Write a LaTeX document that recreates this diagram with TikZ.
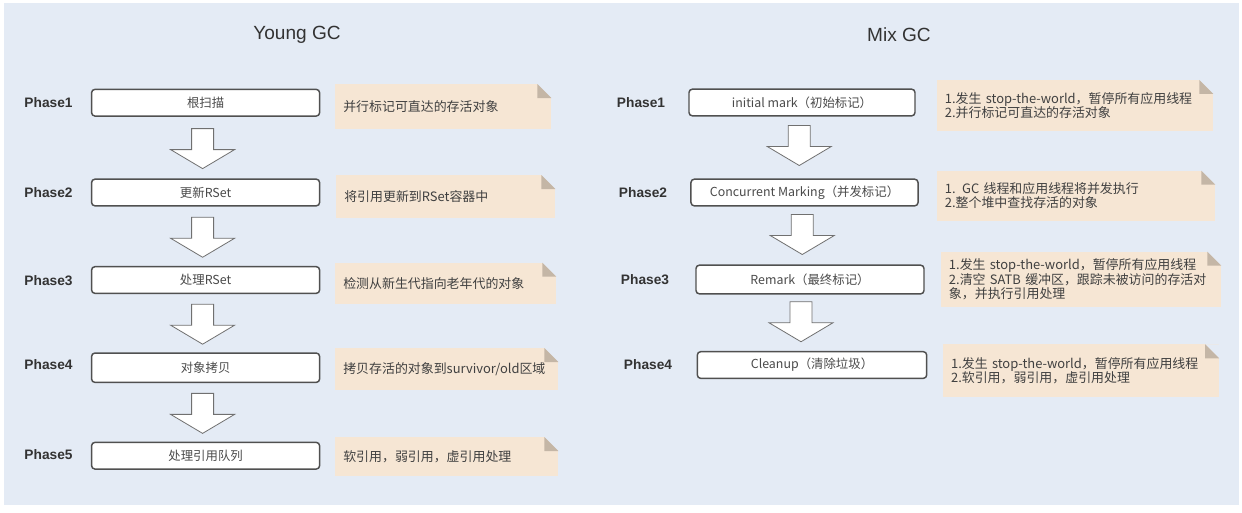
\documentclass[tikz,border=0pt]{standalone}
\usepackage{fontspec}
\setmainfont{Noto Sans CJK SC}
\newfontfamily\latinfont{Liberation Sans}
\usetikzlibrary{calc}
\definecolor{bgblue}{HTML}{E4EBF5}
\definecolor{notefill}{HTML}{F6E6D4}
\definecolor{foldcol}{HTML}{C4B6A6}
\definecolor{boxline}{HTML}{505050}
\definecolor{arrowline}{HTML}{707070}
\definecolor{darktext}{HTML}{333333}
\definecolor{boxtext}{HTML}{4A4A4A}
\definecolor{notetext}{HTML}{404040}
\tikzset{
  titlestyle/.style={font=\latinfont\fontsize{14.3}{16}\selectfont, text=darktext, inner sep=0pt},
  phasestyle/.style={font=\latinfont\bfseries\fontsize{10.3}{12}\selectfont, text=darktext, inner sep=0pt},
  boxstyle/.style={draw=boxline, line width=1.1pt, fill=white, rounded corners=2.5pt,
    minimum height=20pt, inner sep=0pt, font=\fontsize{9.3}{10.5}\selectfont, text=boxtext},
  notestyle/.style={fill=notefill, inner xsep=6pt, inner ysep=0pt, anchor=west, align=left,
    font=\fontsize{9.7}{10.8}\selectfont, text=notetext,
    path picture={
      \fill[bgblue] ([xshift=-10.5pt]path picture bounding box.north east) -- (path picture bounding box.north east) -- ([yshift=-10.5pt]path picture bounding box.north east) -- cycle;
      \fill[foldcol] ([xshift=-10.5pt]path picture bounding box.north east) -- ([yshift=-10.5pt]path picture bounding box.north east) -- ([xshift=-10.5pt,yshift=-10.5pt]path picture bounding box.north east) -- cycle;
    }},
  arrowstyle/.style={draw=arrowline, line width=0.6pt, fill=white, line join=miter},
  downarrow/.pic={\draw[arrowstyle] (-11,-20) -- (11,-20) -- (11,1) -- (32,1) -- (0,20) -- (-32,1) -- (-11,1) -- cycle;}
}
\newcommand{\notebox}[6]{% name, x1, yc, W, H, text
  \node[notestyle, minimum width={#4*0.75pt}, minimum height={#5*0.75pt}, text width={(#4-16)*0.75pt}] (#1) at (#2,#3) {#6};}
\begin{document}
\begin{tikzpicture}[x=0.75pt,y=-0.75pt]
\useasboundingbox (0,0) rectangle (1242,512);
\fill[white] (0,0) rectangle (1242,512);
\fill[bgblue] (4,3) rectangle (1239,505);

% titles
\node[titlestyle] (tyoung) at (297,35) {Young GC};
\node[titlestyle] (tmix) at (899,35) {Mix GC};

% Young GC phases
\node[phasestyle] (yp1) at (48.5,103) {Phase1};
\node[phasestyle] (yp2) at (48.5,192.7) {Phase2};
\node[phasestyle] (yp3) at (48.5,280.7) {Phase3};
\node[phasestyle] (yp4) at (48.5,365) {Phase4};
\node[phasestyle] (yp5) at (48.5,455) {Phase5};

\node[boxstyle, minimum width=171pt, minimum height=20pt] (yb1) at (205.6,102.7) {根扫描};
\node[boxstyle, minimum width=171pt, minimum height=20pt] (yb2) at (205.6,192.5) {更新RSet};
\node[boxstyle, minimum width=171pt, minimum height=20pt] (yb3) at (205.6,280) {处理RSet};
\node[boxstyle, minimum width=171pt, minimum height=22pt] (yb4) at (205.6,367.7) {对象拷贝};
\node[boxstyle, minimum width=171pt, minimum height=20pt] (yb5) at (205.6,455.7) {处理引用队列};

\pic at ($(yb1.south)!0.5!(yb2.north)+(-3,1)$) {downarrow};
\pic at ($(yb2.south)!0.5!(yb3.north)+(-3,1)$) {downarrow};
\pic at ($(yb3.south)!0.5!(yb4.north)+(-3,1)$) {downarrow};
\pic at ($(yb4.south)!0.5!(yb5.north)+(-3,1)$) {downarrow};

\notebox{yn1}{335}{106.5}{216}{45}{并行标记可直达的存活对象}
\notebox{yn2}{336}{196.5}{219}{43}{将引用更新到RSet容器中}
\notebox{yn3}{335}{283.4}{221}{41.5}{检测从新生代指向老年代的对象}
\notebox{yn4}{335}{369}{223}{42}{拷贝存活的对象到survivor/old区域}
\notebox{yn5}{335}{456.5}{223}{39}{软引用，弱引用，虚引用处理}

% Mix GC phases
\node[phasestyle] (mp1) at (641,103) {Phase1};
\node[phasestyle] (mp2) at (643,193) {Phase2};
\node[phasestyle] (mp3) at (645,280) {Phase3};
\node[phasestyle] (mp4) at (648,365) {Phase4};

\node[boxstyle, minimum width=169.5pt, minimum height=20pt] (mb1) at (802,102.5) {initial mark（初始标记）};
\node[boxstyle, minimum width=170.3pt, minimum height=20pt] (mb2) at (804.5,192.5) {Concurrent Marking（并发标记）};
\node[boxstyle, minimum width=171pt, minimum height=21.5pt] (mb3) at (810,279.5) {Remark（最终标记）};
\node[boxstyle, minimum width=172pt, minimum height=20pt] (mb4) at (812,365) {Cleanup（清除垃圾）};

\pic at ($(mb1.south)!0.5!(mb2.north)+(-4,-2)$) {downarrow};
\pic at ($(mb2.south)!0.5!(mb3.north)+(-5,-1)$) {downarrow};
\pic at ($(mb3.south)!0.5!(mb4.north)+(-10,-1)$) {downarrow};

\notebox{mn1}{936.6}{105.3}{276.4}{50.7}{1.发生 stop-the-world，暂停所有应用线程\\2.并行标记可直达的存活对象}
\notebox{mn2}{936.6}{195.7}{278.4}{50}{1. GC 线程和应用线程将并发执行\\2.整个堆中查找存活的对象}
\notebox{mn3}{940.7}{279.5}{280.3}{55.6}{1.发生 stop-the-world，暂停所有应用线程\\2.清空 SATB 缓冲区，跟踪未被访问的存活对\\象，并执行引用处理}
\notebox{mn4}{942.8}{370.5}{276}{52.4}{1.发生 stop-the-world，暂停所有应用线程\\2.软引用，弱引用，虚引用处理}
\end{tikzpicture}
\end{document}
